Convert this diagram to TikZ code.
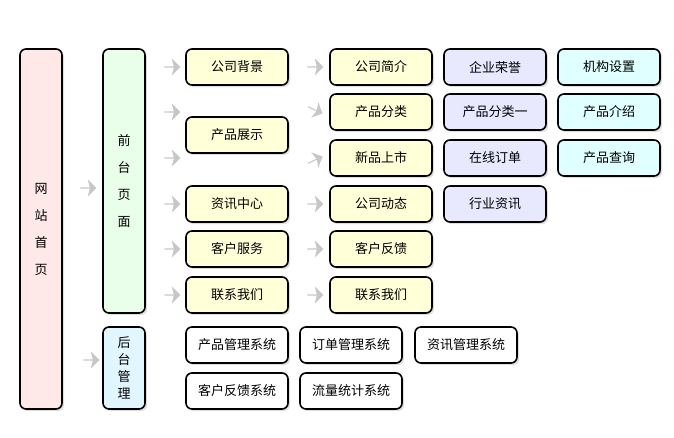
\documentclass[tikz,border=0pt]{standalone}
\usepackage{fontspec}
\setmainfont{Noto Sans CJK SC}
\usetikzlibrary{shapes.arrows, shadows, positioning}
\definecolor{pinkfill}{RGB}{255,232,232}
\definecolor{greenfill}{RGB}{234,255,234}
\definecolor{bluefill}{RGB}{226,246,255}
\definecolor{yellowfill}{RGB}{255,255,216}
\definecolor{lavenderfill}{RGB}{232,232,255}
\definecolor{cyanfill}{RGB}{224,255,255}
\tikzset{box/.style={draw=black, line width=1.6pt, rounded corners=6pt, minimum width=102pt, minimum height=36pt, inner sep=2pt, font=\fontsize{13}{15}\selectfont, drop shadow={opacity=0.25, shadow xshift=2pt, shadow yshift=-2pt}},
ybox/.style={box, fill=yellowfill},
lbox/.style={box, fill=lavenderfill},
cbox/.style={box, fill=cyanfill},
wbox/.style={box, fill=white},
tallbox/.style={box, minimum width=42pt, align=center},
garrow/.style={single arrow, fill=black!22, draw=none, minimum height=16pt, minimum width=17pt, single arrow head extend=3pt, single arrow head indent=2pt, inner sep=0pt}}

\begin{document}
\begin{tikzpicture}[x=1pt, y=1pt]
                \useasboundingbox (0,0) rectangle (674,-437);

                % Columns of boxes
                \node[tallbox, fill=pinkfill, minimum height=360pt] (home) at (41,-229) {网\\[12pt]站\\[12pt]首\\[12pt]页};
                \node[tallbox, fill=greenfill, minimum height=264pt] (front) at (124,-181) {前\\[12pt]台\\[12pt]页\\[12pt]面};
                \node[tallbox, fill=bluefill, minimum height=82pt] (back) at (124,-368) {后\\[2pt]台\\[2pt]管\\[2pt]理};

                \node[ybox] (bg) at (237,-67) {公司背景};
                \node[ybox] (show) at (237,-135) {产品展示};
                \node[ybox] (news) at (237,-204) {资讯中心};
                \node[ybox] (service) at (237,-249) {客户服务};
                \node[ybox] (contact) at (237,-295) {联系我们};

                \node[ybox] (intro) at (381,-67) {公司简介};
                \node[ybox] (cat) at (381,-112) {产品分类};
                \node[ybox] (new) at (381,-158) {新品上市};
                \node[ybox] (dyn) at (381,-204) {公司动态};
                \node[ybox] (feed) at (381,-249) {客户反馈};
                \node[ybox] (contact2) at (381,-295) {联系我们};

                \node[lbox] (honor) at (495,-67) {企业荣誉};
                \node[lbox] (cat1) at (495,-112) {产品分类一};
                \node[lbox] (order) at (495,-158) {在线订单};
                \node[lbox] (industry) at (495,-204) {行业资讯};

                \node[cbox] (org) at (609,-67) {机构设置};
                \node[cbox] (pintro) at (609,-112) {产品介绍};
                \node[cbox] (query) at (609,-158) {产品查询};

                % Backend systems
                \node[wbox] (pms) at (237,-345) {产品管理系统};
                \node[wbox] (oms) at (351,-345) {订单管理系统};
                \node[wbox] (nms) at (466,-345) {资讯管理系统};
                \node[wbox] (fms) at (237,-391) {客户反馈系统};
                \node[wbox] (tms) at (351,-391) {流量统计系统};

                % Gray arrows
                \node[garrow] (a1) at (88,-188) {};
                \node[garrow] (a2) at (91,-360) {};
                \foreach \y in {67,112,158,204,249,295}
                    \node[garrow] (b\y) at (172,-\y) {};
                \foreach \y in {67,204,249,295}
                    \node[garrow] (c\y) at (315,-\y) {};
                \node[garrow, rotate=-25] (c112) at (315,-110) {};
                \node[garrow, rotate=25] (c158) at (315,-160) {};
            \end{tikzpicture}
\end{document}
